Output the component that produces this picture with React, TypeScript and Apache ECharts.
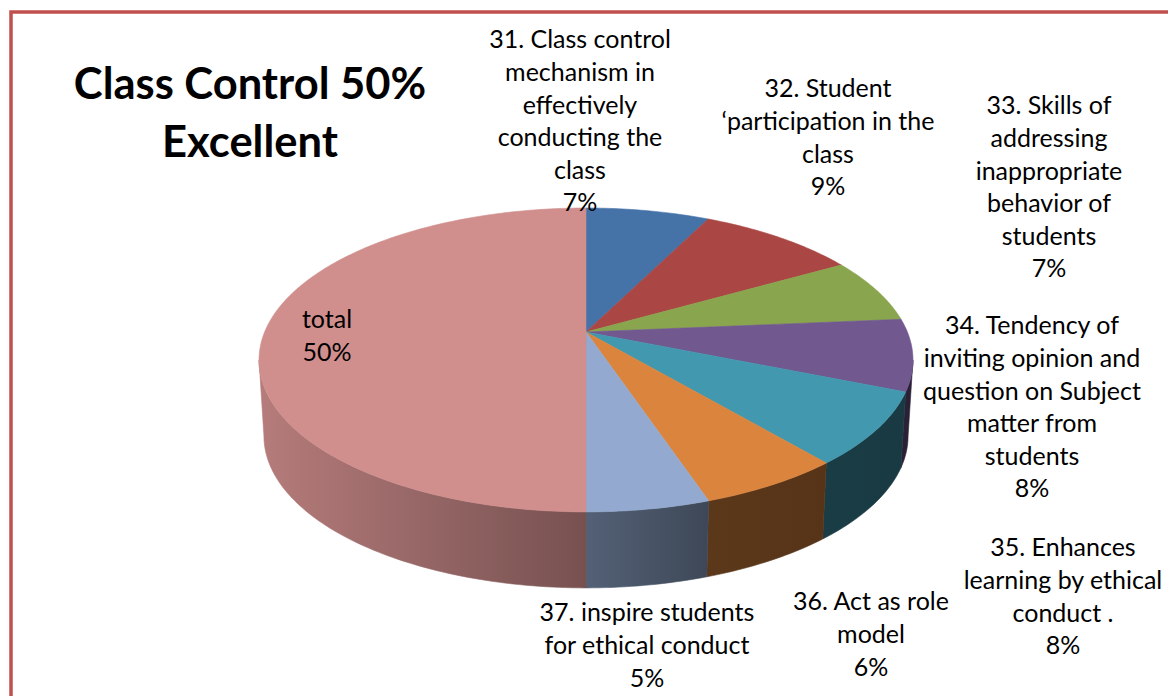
import React, { useEffect, useRef } from "react";
import * as echarts from "echarts";

// ---------- data ----------
const categories: string[] = [
  "31. Class control\nmechanism in\neffectively\nconducting the\nclass",
  "32. Student\n‘participation in the\nclass",
  "33. Skills of\naddressing\ninappropriate\nbehavior of\nstudents",
  "34. Tendency of\ninviting opinion and\nquestion on Subject\nmatter from\nstudents",
  "35. Enhances\nlearning by ethical\nconduct .",
  "36. Act as role\nmodel",
  "37. inspire students\nfor ethical conduct",
  "total",
];
const values: number[] = [7.3, 9.4, 6.9, 7.6, 7.7, 6.0, 5.1, 50];
const sliceColors: string[] = [
  "#4572a7", "#aa4643", "#89a54e", "#71588f",
  "#4198af", "#db843d", "#93a9cf", "#d08e8d",
];
const titleLines: string[] = ["Class Control 50%", "Excellent"];

// label layout: [centre x, top y of text block]
const labelLayout: number[][] = [
  [580, 22], [828, 71], [1049, 88], [1032, 308],
  [1063, 530], [871, 584], [647, 595], [327, 302],
];

// ---------- geometry ----------
const CX = 586, CY = 332, A = 321.4, B = 146.8, K = -0.184, DEPTH = 76;
const FRONT0 = 100.6, FRONT1 = 259.4;
const FONT = "Lato, 'Open Sans', sans-serif";

function proj(deg: number, depth = 0, shrink = 1): number[] {
  const t = (deg * Math.PI) / 180;
  const u = Math.sin(t), v = -Math.cos(t);
  const w = 1 + K * v;
  return [CX + (A * shrink * u) / w, CY + (B * v) / w + depth];
}

function shade(hex: string, f: number): string {
  const n = parseInt(hex.slice(1), 16);
  const r = Math.round(((n >> 16) & 255) * f);
  const g = Math.round(((n >> 8) & 255) * f);
  const b = Math.round((n & 255) * f);
  return `rgb(${r},${g},${b})`;
}

function wallFactor(x: number): number {
  const pts = [[250, 0.88], [586, 0.57], [710, 0.42], [1000, 0.36]];
  if (x <= pts[0][0]) return pts[0][1];
  for (let i = 1; i < pts.length; i++) {
    if (x <= pts[i][0]) {
      const [x0, f0] = pts[i - 1];
      const [x1, f1] = pts[i];
      return f0 + ((x - x0) / (x1 - x0)) * (f1 - f0);
    }
  }
  return pts[pts.length - 1][1];
}

function arcPoints(a0: number, a1: number, depth = 0, shrink = 1): number[][] {
  const pts: number[][] = [];
  const n = Math.max(2, Math.ceil((a1 - a0) / 1));
  for (let i = 0; i <= n; i++) pts.push(proj(a0 + ((a1 - a0) * i) / n, depth, shrink));
  return pts;
}

export default function App() {
  const ref = useRef<HTMLDivElement>(null);
  useEffect(() => {
    if (!ref.current) return;
    const chart = echarts.init(ref.current, null, { renderer: "svg" });
    const total = values.reduce((s, v) => s + v, 0);
    const starts: number[] = [];
    let acc = 0;
    values.forEach((v) => {
      starts.push((acc / total) * 360);
      acc += v;
    });

    const renderItem = (params: any) => {
      const i = params.dataIndex;
      const a0 = starts[i];
      const a1 = a0 + (values[i] / total) * 360;
      const color = sliceColors[i];
      const children: any[] = [];

      // front wall
      const w0 = Math.max(a0, FRONT0);
      const w1 = Math.min(a1, FRONT1);
      if (w1 > w0) {
        const topRim = arcPoints(w0, w1, 0, 1);
        const botRim = arcPoints(w0, w1, DEPTH, 0.985).reverse();
        const xs = topRim.map((p) => p[0]);
        const xmin = Math.min(...xs), xmax = Math.max(...xs);
        const stops = [0, 0.25, 0.5, 0.75, 1].map((o) => ({
          offset: o,
          color: shade(color, wallFactor(xmin + (xmax - xmin) * o)),
        }));
        const grad = new echarts.graphic.LinearGradient(xmin, 0, xmax, 0, stops, true);
        children.push({
          type: "polygon",
          z2: 1,
          shape: { points: topRim.concat(botRim) },
          style: { fill: grad, stroke: grad, lineWidth: 0.6 },
        });
      }

      // top face
      const top = [[CX, CY]].concat(arcPoints(a0, a1, 0, 1));
      children.push({
        type: "polygon",
        z2: 5,
        shape: { points: top },
        style: { fill: color, stroke: color, lineWidth: 0.6 },
      });

      // label
      const pct = Math.round((values[i] / total) * 100) + "%";
      children.push({
        type: "text",
        z2: 100,
        style: {
          text: categories[i] + "\n" + pct,
          x: labelLayout[i][0],
          y: labelLayout[i][1],
          align: "center",
          verticalAlign: "top",
          fill: "#000000",
          fontSize: 25,
          fontFamily: FONT,
          lineHeight: 32.6,
        },
      });
      return { type: "group", children };
    };

    chart.setOption({
      animation: false,
      backgroundColor: "#ffffff",
      graphic: [
        {
          type: "rect",
          shape: { x: 11, y: 12, width: 1400, height: 1000 },
          style: { fill: "none", stroke: "#c0504d", lineWidth: 3.5 },
          z: 0,
        },
        {
          type: "text",
          z: 10,
          style: {
            text: titleLines.join("\n"),
            x: 250,
            y: 53,
            align: "center",
            verticalAlign: "top",
            fill: "#000000",
            fontSize: 43.5,
            fontWeight: "bold",
            fontFamily: FONT,
            lineHeight: 58,
          },
        },
      ],
      series: [
        {
          type: "custom",
          coordinateSystem: "none",
          renderItem,
          data: values.map((v, i) => [i, v]),
          silent: true,
        },
      ],
    });
    return () => chart.dispose();
  }, []);

  return (
    <div
      ref={ref}
      style={{ position: "absolute", left: 0, top: 0, width: 1168, height: 696, background: "#fff" }}
    />
  );
}
